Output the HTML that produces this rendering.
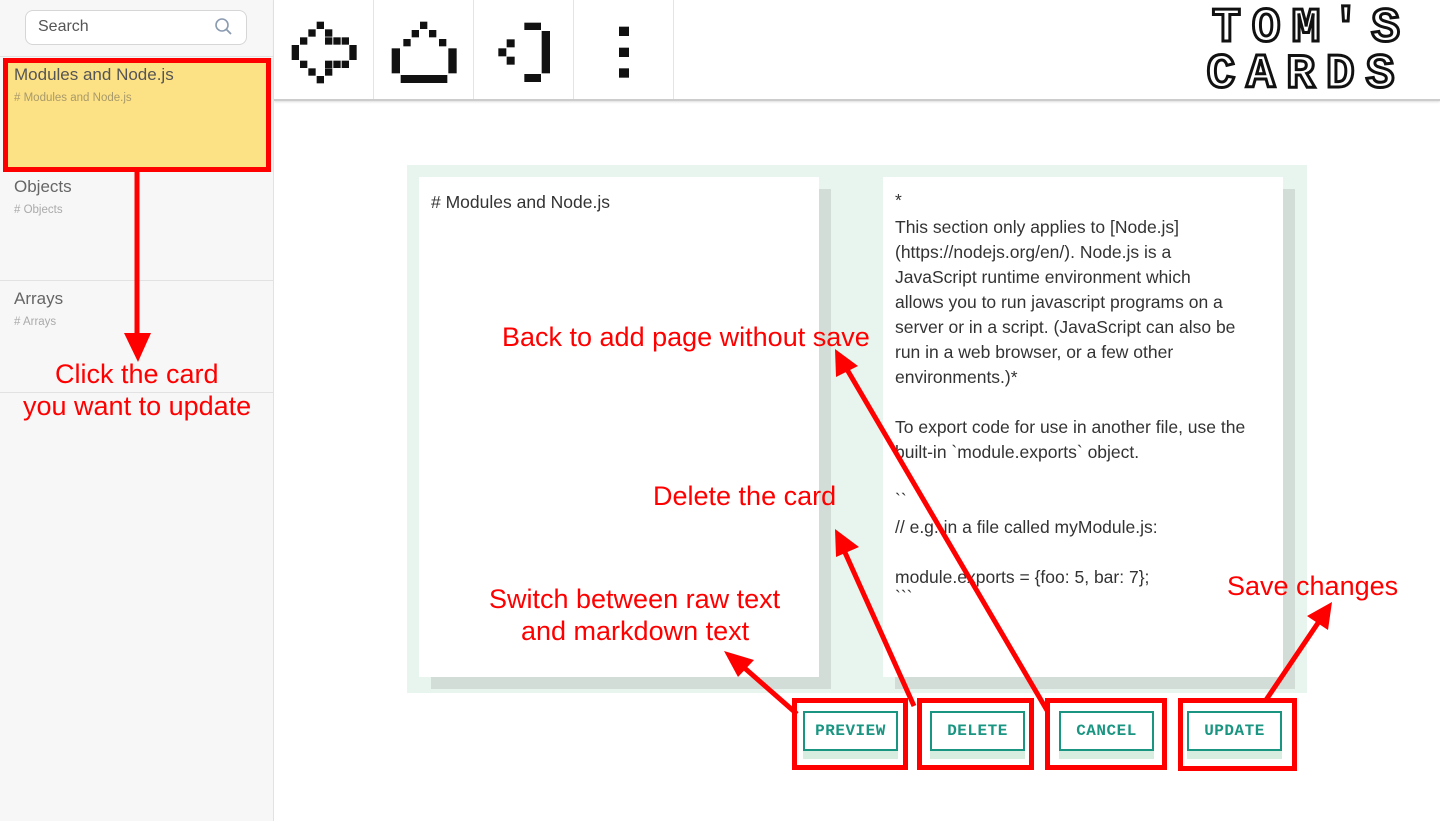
<!DOCTYPE html>
<html><head><meta charset="utf-8"><style>
body{margin:0;width:1440px;height:821px;overflow:hidden;background:#fff;font-family:"Liberation Sans",sans-serif;position:relative}
.abs{position:absolute}
.ann{position:absolute;color:#f00;font-size:27px;white-space:nowrap}
.btn{position:absolute;width:91px;height:36px;border:2px solid #1a9582;background:#fff;color:#1a9582;font-family:"Liberation Mono",monospace;font-weight:bold;font-size:16px;text-align:center;line-height:36px;letter-spacing:0.5px}
.bsh{position:absolute;width:95px;height:8px;background:#d6ede0}
.rb{position:absolute;border:5px solid #f00;box-sizing:border-box}
.ct{position:absolute;left:895px;font-size:17.5px;color:#333;white-space:nowrap}
</style></head><body>
<div class="abs" style="left:0;top:0;width:273px;height:821px;background:#f7f7f7;border-right:1px solid #e2e2e2"></div>
<div class="abs" style="left:25px;top:10px;width:220px;height:33px;border:1px solid #d6d6d6;border-radius:8px;background:#fff"></div>
<div class="abs" style="left:38px;top:18px;font-size:16px;color:#555">Search</div>
<svg class="abs" style="left:214px;top:17px" width="20" height="20"><circle cx="8" cy="8" r="6" fill="none" stroke="#8a9bb0" stroke-width="1.6"/><line x1="12.5" y1="12.5" x2="17" y2="17" stroke="#8a9bb0" stroke-width="1.8"/></svg>
<div class="abs" style="left:0;top:56px;width:273px;height:1px;background:#e2e2e2"></div>
<div class="abs" style="left:3px;top:58px;width:268px;height:113px;background:#fde185"></div>
<div class="rb" style="left:3px;top:58px;width:268px;height:114px"></div>
<div class="abs" style="left:14px;top:65px;font-size:17px;color:#555">Modules and Node.js</div>
<div class="abs" style="left:14px;top:92px;font-size:11.5px;color:#a89a6a">&#35; Modules and Node.js</div>
<div class="abs" style="left:14px;top:177px;font-size:17px;color:#666">Objects</div>
<div class="abs" style="left:14px;top:204px;font-size:11.5px;color:#aaa"># Objects</div>
<div class="abs" style="left:0;top:280px;width:273px;height:1px;background:#e2e2e2"></div>
<div class="abs" style="left:14px;top:289px;font-size:17px;color:#666">Arrays</div>
<div class="abs" style="left:14px;top:316px;font-size:11.5px;color:#aaa"># Arrays</div>
<div class="abs" style="left:0;top:392px;width:273px;height:1px;background:#e2e2e2"></div>
<div class="abs" style="left:274px;top:0;width:1166px;height:99px;border-bottom:2px solid #ccc;box-shadow:0 1px 2px #ddd"></div>
<div class="abs" style="left:373px;top:0;width:1px;height:99px;background:#e4e4e4"></div>
<div class="abs" style="left:473px;top:0;width:1px;height:99px;background:#e4e4e4"></div>
<div class="abs" style="left:573px;top:0;width:1px;height:99px;background:#e4e4e4"></div>
<div class="abs" style="left:673px;top:0;width:1px;height:99px;background:#e4e4e4"></div>
<svg class="abs" style="left:280px;top:0" width="400" height="110" viewBox="0 0 1200 330"><g fill="#111">
<rect x="110" y="65" width="22" height="22"/><rect x="85" y="88" width="22" height="22"/><rect x="135" y="88" width="22" height="22"/>
<rect x="60" y="112" width="22" height="22"/><rect x="135" y="112" width="22" height="22"/><rect x="160" y="112" width="22" height="22"/><rect x="185" y="112" width="22" height="22"/>
<rect x="35" y="135" width="22" height="45"/><rect x="208" y="135" width="22" height="45"/>
<rect x="60" y="182" width="22" height="22"/><rect x="135" y="182" width="22" height="22"/><rect x="160" y="182" width="22" height="22"/><rect x="185" y="182" width="22" height="22"/>
<rect x="85" y="205" width="22" height="22"/><rect x="135" y="205" width="22" height="22"/><rect x="110" y="228" width="22" height="22"/>
<rect x="420" y="65" width="22" height="22"/><rect x="395" y="90" width="22" height="22"/><rect x="447" y="90" width="22" height="22"/>
<rect x="370" y="117" width="22" height="22"/><rect x="477" y="117" width="22" height="22"/>
<rect x="335" y="145" width="25" height="75"/><rect x="505" y="145" width="25" height="75"/>
<rect x="362" y="225" width="140" height="24"/>
<rect x="733" y="68" width="50" height="22"/><rect x="785" y="93" width="25" height="127"/><rect x="733" y="222" width="50" height="24"/>
<rect x="680" y="118" width="24" height="24"/><rect x="655" y="145" width="24" height="24"/><rect x="680" y="170" width="24" height="24"/>
<rect x="1017" y="80" width="30" height="28"/><rect x="1017" y="143" width="30" height="28"/><rect x="1017" y="205" width="30" height="28"/>
</g></svg>
<div class="abs" style="left:1186px;top:6px;width:240px;font-family:'Liberation Mono',monospace;font-weight:bold;font-size:48px;line-height:46px;color:#fff;-webkit-text-stroke:3px #111;letter-spacing:11px;text-align:center;text-indent:11px">TOM'S<br>CARDS</div>
<div class="abs" style="left:407px;top:165px;width:900px;height:528px;background:#e8f5ee"></div>
<div class="abs" style="left:431px;top:189px;width:400px;height:500px;background:#d1ddd6"></div>
<div class="abs" style="left:419px;top:177px;width:400px;height:500px;background:#fff"></div>
<div class="abs" style="left:895px;top:189px;width:400px;height:500px;background:#d1ddd6"></div>
<div class="abs" style="left:883px;top:177px;width:400px;height:500px;background:#fff"></div>
<div class="ct" style="left:431px;top:192px">&#35; Modules and Node.js</div>
<div class="ct" style="top:190px">*</div>
<div class="ct" style="top:217px">This section only applies to [Node.js]</div>
<div class="ct" style="top:242px">(https://nodejs.org/en/). Node.js is a</div>
<div class="ct" style="top:267px">JavaScript runtime environment which</div>
<div class="ct" style="top:292px">allows you to run javascript programs on a</div>
<div class="ct" style="top:317px">server or in a script. (JavaScript can also be</div>
<div class="ct" style="top:342px">run in a web browser, or a few other</div>
<div class="ct" style="top:367px">environments.)*</div>
<div class="ct" style="top:417px">To export code for use in another file, use the</div>
<div class="ct" style="top:442px">built-in &#96;module.exports&#96; object.</div>
<div class="ct" style="top:490px">&#96;&#96;</div>
<div class="ct" style="top:517px">// e.g. in a file called myModule.js:</div>
<div class="ct" style="top:567px">module.exports = {foo: 5, bar: 7};</div>
<div class="ct" style="top:587px">&#96;&#96;&#96;</div>
<div class="bsh" style="left:803px;top:751px"></div><div class="btn" style="left:803px;top:711px">PREVIEW</div>
<div class="bsh" style="left:930px;top:751px"></div><div class="btn" style="left:930px;top:711px">DELETE</div>
<div class="bsh" style="left:1059px;top:751px"></div><div class="btn" style="left:1059px;top:711px">CANCEL</div>
<div class="bsh" style="left:1187px;top:751px"></div><div class="btn" style="left:1187px;top:711px">UPDATE</div>
<div class="rb" style="left:792px;top:698px;width:116px;height:72px"></div>
<div class="rb" style="left:917px;top:698px;width:117px;height:72px"></div>
<div class="rb" style="left:1045px;top:698px;width:122px;height:72px"></div>
<div class="rb" style="left:1178px;top:698px;width:119px;height:73px"></div>
<svg class="abs" style="left:0;top:0" width="1440" height="821"><g stroke="#f00" stroke-width="5" fill="#f00">
<line x1="137" y1="172" x2="137" y2="335"/><polygon stroke="none" points="124,333 151,333 138,362"/>
<line x1="797" y1="714" x2="740" y2="664"/><polygon stroke="none" points="724,651 754,660 738,677"/>
<line x1="914" y1="706" x2="843" y2="548"/><polygon stroke="none" points="835,529 859,547 836,557"/>
<line x1="1048" y1="712" x2="845" y2="366"/><polygon stroke="none" points="835,349 858,366 836,377"/>
<line x1="1266" y1="700" x2="1320" y2="620"/><polygon stroke="none" points="1332,602 1328,630 1307,616"/>
</g></svg>
<div class="ann" style="left:55px;top:359px">Click the card</div>
<div class="ann" style="left:23px;top:391px">you want to update</div>
<div class="ann" style="left:502px;top:322px">Back to add page without save</div>
<div class="ann" style="left:653px;top:481px">Delete the card</div>
<div class="ann" style="left:489px;top:584px">Switch between raw text</div>
<div class="ann" style="left:521px;top:616px">and markdown text</div>
<div class="ann" style="left:1227px;top:571px">Save changes</div>
</body></html>
